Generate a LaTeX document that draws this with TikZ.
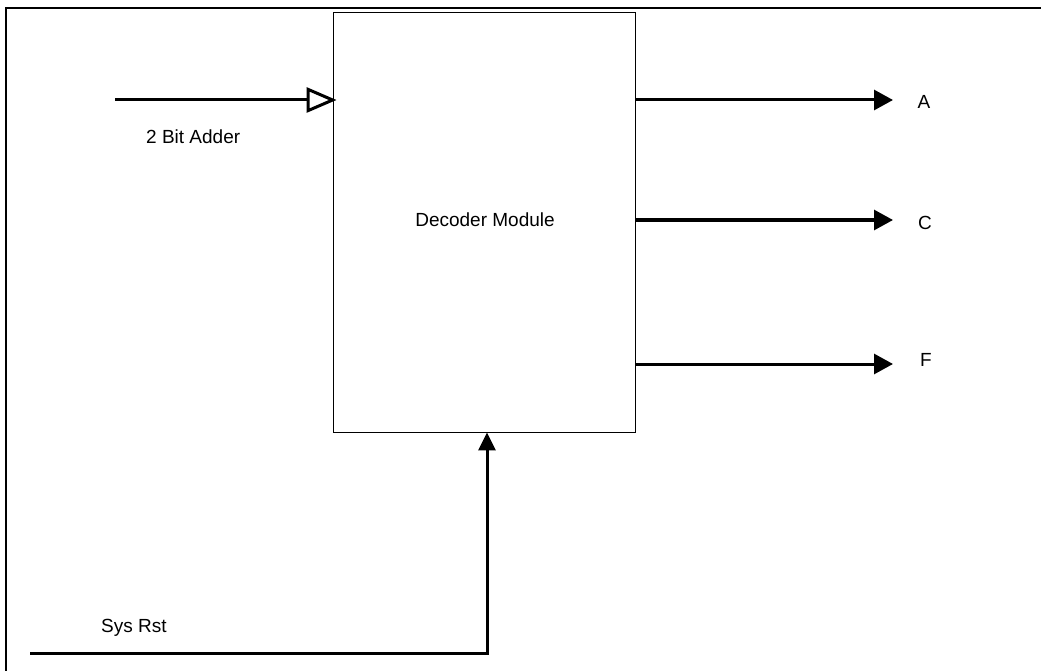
\documentclass[tikz,border=0pt]{standalone}
\usepackage{fontspec}
\setmainfont{Liberation Sans}
\usetikzlibrary{arrows.meta}
\begin{document}
\begin{tikzpicture}[x=1pt,y=-1pt,
  lbl/.style={inner sep=0pt,font=\fontsize{19}{22}\selectfont},
  wire/.style={line width=3pt},
  sigout/.style={wire,-{Triangle[length=19pt,width=20pt]}},
  busin/.style={wire,-{Triangle[open,length=30pt,width=25pt,line width=3pt]}},
  module/.style={draw,line width=0.9pt,inner sep=0pt}]
\useasboundingbox (0,0) rectangle (1041,671);
% page frame (top and left edges only)
\draw[line width=1.4pt] (1041,8) -- (6,8) -- (6,671);
% decoder block
\node[module,minimum width=302pt,minimum height=420pt] (dec) at (484,222) {};
\node[lbl] (declbl) at (485,220) {Decoder Module};
% input bus
\coordinate (inA) at (115,100);
\node[lbl,anchor=west] (addlbl) at (146,137) {2 Bit Adder};
\draw[busin] (inA) -- ([xshift=4pt]dec.west |- inA);
% outputs
\node[lbl] (outA) at (924,102) {A};
\node[lbl] (outC) at (925,223) {C};
\node[lbl] (outF) at (926,360) {F};
\draw[sigout] (dec.east |- 0,100) -- (893,100);
\draw[sigout] (dec.east |- 0,220) -- (893,220);
\draw[sigout] (dec.east |- 0,364) -- (893,364);
% reset line
\coordinate (rst) at (30,653);
\node[lbl,anchor=west] (rstlbl) at (101,628) {Sys Rst};
\draw[wire,-{Triangle[length=18pt,width=17pt]}] (rst) -- (487,653) -- (dec.south -| 487,0);
\end{tikzpicture}
\end{document}
